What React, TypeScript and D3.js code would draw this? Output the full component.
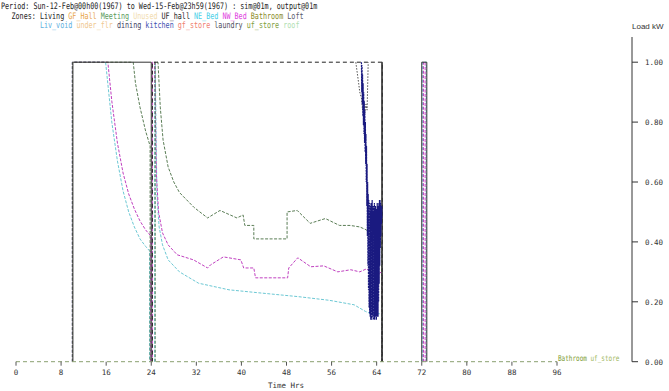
import React from 'react';
import * as d3 from 'd3';

type Pt = [number, number];

// axis ticks
const hourTicks = [0, 8, 16, 24, 32, 40, 48, 56, 64, 72, 80, 88, 96];
const loadTicks = [0, 0.2, 0.4, 0.6, 0.8, 1.0];

// zone loads, [hour, kW]; each zone is a list of drawn runs (zero runs sit under the baseline)
const living: Pt[][] = [
  [[10.1, 0], [10.1, 1], [24, 1], [24, 0]],
  [[64.9, 0], [64.9, 1], [65, 1], [65, 0]],
  [[72, 0], [72, 1], [72.9, 1], [72.9, 0]],
];
const ufHall: Pt[][] = [[[24.2, 0], [24.2, 1], [65, 1], [65, 0]]];
const laundry: Pt[][] = [[[60.3, 1], [60.8, 0.93], [61, 0.9], [61.3, 0.88], [61.5, 0.84], [61.7, 0.87], [61.9, 0.83], [62.1, 0.86], [62.3, 0.84], [62.5, 1]]];
const bathroom: Pt[][] = [
  [[10, 0], [10, 1], [20.8, 1], [21.2, 0.93], [22, 0.85], [23, 0.77], [23.8, 0.72], [23.8, 0]],
  [[24.7, 0], [24.7, 1], [25.2, 1], [25.6, 0.85], [26.1, 0.74], [27, 0.65], [28, 0.6], [29, 0.565], [31.6, 0.515], [34, 0.48], [36.2, 0.505], [39.2, 0.48], [40.3, 0.49], [40.6, 0.455], [42.2, 0.455], [42.2, 0.41], [48.1, 0.41], [48.1, 0.5], [49.9, 0.505], [52.2, 0.462], [54.9, 0.478], [57.4, 0.455], [59.3, 0.455], [61, 0.45], [62.2, 0.44], [63, 0.42], [64, 0.4], [64.9, 0.4], [64.9, 0]],
];
const nwBed: Pt[][] = [
  [[10, 0], [10, 1], [16.3, 1], [17, 0.87], [18, 0.73], [19, 0.63], [20, 0.56], [21, 0.51], [22, 0.47], [23, 0.44], [23.9, 0.42], [23.9, 0]],
  [[24.2, 0], [24.2, 1], [24.6, 1], [24.9, 0.63], [25.3, 0.5], [26, 0.43], [27, 0.39], [28.6, 0.357], [31.5, 0.34], [34, 0.313], [34.5, 0.323], [36.8, 0.35], [39.9, 0.34], [40.4, 0.313], [42.2, 0.313], [42.5, 0.28], [48.2, 0.28], [48.4, 0.313], [50, 0.347], [52.3, 0.317], [54.6, 0.32], [57.1, 0.3], [59.4, 0.307], [61, 0.3], [62.2, 0.31], [63, 0.3], [64, 0.29], [64.9, 0.3], [64.9, 0]],
  [[72.3, 0], [72.3, 1], [72.6, 1], [72.6, 0]],
];
const neBed: Pt[][] = [
  [[10, 0], [10, 1], [15.9, 1], [17, 0.8], [18, 0.67], [19, 0.57], [20, 0.5], [21, 0.45], [22, 0.41], [23, 0.385], [23.7, 0.37], [23.7, 0]],
  [[24.6, 0], [24.6, 1], [24.7, 1], [25, 0.56], [25.4, 0.45], [26, 0.39], [27, 0.34], [29, 0.3], [32.4, 0.262], [37.8, 0.24], [43.1, 0.23], [50.2, 0.217], [55.6, 0.205], [60, 0.19], [62, 0.168], [63, 0.16], [64.9, 0.16], [64.9, 0]],
  [[72.1, 0], [72.1, 1], [72.8, 1], [72.8, 0]],
];
const kitchen: Pt[][] = [[
  [61.3, 1.0], [61.35, 0.9], [61.4, 0.99], [61.45, 0.86], [61.5, 0.96], [61.55, 0.82], [61.6, 0.93], [61.65, 0.79], [61.7, 0.9], [61.75, 0.76], [61.8, 0.87], [61.85, 0.73], [61.9, 0.84], [61.95, 0.7],
  [62.0, 0.8], [62.05, 0.66], [62.1, 0.76], [62.15, 0.6], [62.2, 0.72], [62.25, 0.52], [62.3, 0.66], [62.35, 0.42], [62.4, 0.6], [62.45, 0.32], [62.5, 0.56], [62.55, 0.24], [62.6, 0.54], [62.65, 0.18], [62.7, 0.53], [62.75, 0.16], [62.8, 0.52], [62.85, 0.15], [62.9, 0.5], [62.95, 0.14],
  [63.0, 0.53], [63.05, 0.15], [63.1, 0.51], [63.15, 0.14], [63.2, 0.54], [63.25, 0.16], [63.3, 0.5], [63.35, 0.15], [63.4, 0.52], [63.45, 0.14], [63.5, 0.5], [63.55, 0.15], [63.6, 0.53], [63.65, 0.14], [63.7, 0.5], [63.75, 0.16], [63.8, 0.52], [63.85, 0.15], [63.9, 0.49], [63.95, 0.14],
  [64.0, 0.51], [64.05, 0.15], [64.1, 0.53], [64.15, 0.16], [64.2, 0.5], [64.25, 0.15], [64.3, 0.52], [64.35, 0.2], [64.4, 0.53], [64.45, 0.26], [64.5, 0.54], [64.55, 0.32], [64.6, 0.54], [64.65, 0.38], [64.7, 0.53], [64.75, 0.42], [64.8, 0.52], [64.85, 0.46], [64.9, 0.52], [64.95, 0.48],
]];
const roof: Pt[][] = [[[0, 0], [96, 0]]];

const zones1 = [
  { name: 'Living', color: '#222' },
  { name: 'GF_Hall', color: '#e8a448' },
  { name: 'Meeting', color: '#5a9a5a' },
  { name: 'Unused', color: '#f2dcae' },
  { name: 'UF_hall', color: '#222' },
  { name: 'NE_Bed', color: '#48d0e8' },
  { name: 'NW_Bed', color: '#e040e0' },
  { name: 'Bathroom', color: '#8a8a28' },
  { name: 'Loft', color: '#5a5a6a' },
];
const zones2 = [
  { name: 'Liv_void', color: '#60b0e0' },
  { name: 'under_flr', color: '#f0c890' },
  { name: 'dining', color: '#404060' },
  { name: 'kitchen', color: '#4050b0' },
  { name: 'gf_store', color: '#f08070' },
  { name: 'laundry', color: '#505060' },
  { name: 'uf_store', color: '#80a040' },
  { name: 'roof', color: '#b0e0b0' },
];

const series = [
  { name: 'NE_Bed', data: neBed, color: '#6cc8d4', dash: '3,1.5', width: 1 },
  { name: 'NW_Bed', data: nwBed, color: '#c040c0', dash: '3,1.5', width: 1 },
  { name: 'Bathroom', data: bathroom, color: '#5a7d55', dash: '3,1.5', width: 1 },
  { name: 'laundry', data: laundry, color: '#505050', dash: '1.5,1.5', width: 1 },
  { name: 'UF_hall', data: ufHall, color: '#222', dash: '4,3', width: 1 },
  { name: 'Living', data: living, color: '#333', dash: undefined, width: 1 },
  { name: 'kitchen', data: kitchen, color: '#1a1a80', dash: '2,0.8', width: 1.2 },
  { name: 'roof', data: roof, color: '#8aa070', dash: '4,3', width: 1 },
];

// the overprinted zone names where the lines end
const endLabels = [
  { name: 'Bathroom', color: '#7a9a30' },
  { name: ' uf_store', color: '#a0b860' },
];

const mono = '"DejaVu Sans Mono", monospace';

export default function App() {
  const W = 669;
  const H = 391;
  const x = d3.scaleLinear().domain([0, 96]).range([16, 557]);
  const y = d3.scaleLinear().domain([0, 1]).range([361.7, 62.2]);
  const line = d3.line<Pt>().x(d => x(d[0])).y(d => y(d[1]));
  const axisX = 632;

  const renderZones = (list: { name: string; color: string }[]) =>
    list.map((z, i) => (
      <tspan key={z.name} fill={z.color}>{(i > 0 ? ' ' : '') + z.name}</tspan>
    ));

  return (
    <svg width={W} height={H} style={{ position: 'absolute', left: 0, top: 0, background: '#fff' }}>
      <rect width={W} height={H} fill="#fff" />

      {/* header */}
      <g fontFamily={mono} fontSize={9}>
        <text transform="translate(1,9) scale(0.75,1)" fill="#222">
          Period: Sun-12-Feb@00h00(1967) to Wed-15-Feb@23h59(1967) : sim@01m, output@01m
        </text>
        <text transform="translate(11.5,18.5) scale(0.75,1)" fill="#222">
          Zones: {renderZones(zones1)}
        </text>
        <text transform="translate(39.9,27.5) scale(0.75,1)" fill="#222">
          {renderZones(zones2)}
        </text>
      </g>

      {/* series */}
      <g fill="none">
        {series.map(s => (
          <g key={s.name}>
            {s.data.map((run, i) => (
              <path key={i} d={line(run) || ''} stroke={s.color} strokeWidth={s.width} strokeDasharray={s.dash} />
            ))}
          </g>
        ))}
      </g>

      {/* end labels */}
      <text transform={`translate(${x(96) + 1},${y(0) - 1}) scale(0.75,1)`} fontFamily={mono} fontSize={8}>
        {endLabels.map(l => (
          <tspan key={l.name} fill={l.color}>{l.name}</tspan>
        ))}
      </text>

      {/* x axis */}
      <g fontFamily={mono} fontSize={7.5} fill="#333">
        {hourTicks.map(t => (
          <g key={t}>
            <line x1={x(t)} x2={x(t)} y1={y(0)} y2={y(0) + 4} stroke="#555" />
            <text x={x(t)} y={y(0) + 13} textAnchor="middle">{t}</text>
          </g>
        ))}
        <text x={286} y={388} textAnchor="middle">Time Hrs</text>
      </g>

      {/* right y axis */}
      <g fontFamily={mono} fontSize={7.5} fill="#333">
        <line x1={axisX} x2={axisX} y1={37} y2={y(0)} stroke="#333" />
        {loadTicks.map(v => (
          <g key={v}>
            <line x1={axisX} x2={axisX + 6} y1={y(v)} y2={y(v)} stroke="#333" />
            <text x={645} y={y(v) + 3}>{d3.format('.2f')(v)}</text>
          </g>
        ))}
        <text x={632} y={29} fontFamily='"Liberation Sans", sans-serif' fontSize={8}>Load kW</text>
      </g>
    </svg>
  );
}
